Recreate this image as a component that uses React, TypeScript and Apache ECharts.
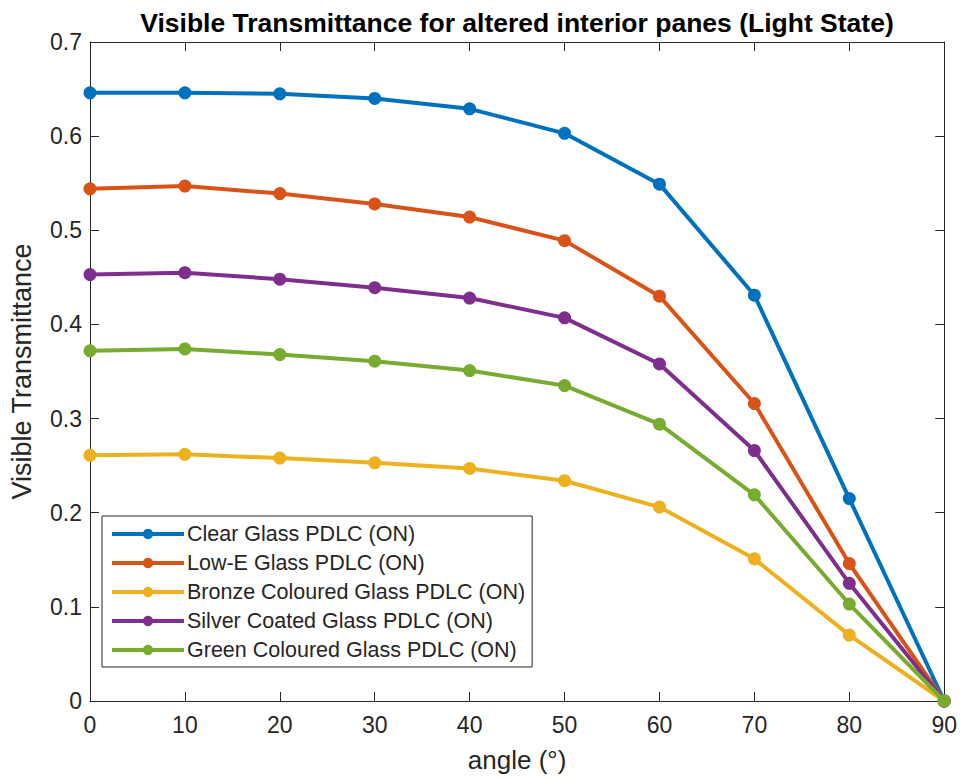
import React, { useEffect, useRef } from "react";
import * as echarts from "echarts";

const angles = [0, 10, 20, 30, 40, 50, 60, 70, 80, 90];
const clearGlass = [0.646, 0.646, 0.645, 0.64, 0.629, 0.603, 0.549, 0.431, 0.215, 0];
const lowEGlass = [0.544, 0.547, 0.539, 0.528, 0.514, 0.489, 0.43, 0.316, 0.146, 0];
const bronzeGlass = [0.261, 0.262, 0.258, 0.253, 0.247, 0.234, 0.206, 0.151, 0.07, 0];
const silverGlass = [0.453, 0.455, 0.448, 0.439, 0.428, 0.407, 0.358, 0.266, 0.125, 0];
const greenGlass = [0.372, 0.374, 0.368, 0.361, 0.351, 0.335, 0.294, 0.219, 0.103, 0];

const seriesNames = [
  "Clear Glass PDLC (ON)",
  "Low-E Glass PDLC (ON)",
  "Bronze Coloured Glass PDLC (ON)",
  "Silver Coated Glass PDLC (ON)",
  "Green Coloured Glass PDLC (ON)",
];
const seriesValues = [clearGlass, lowEGlass, bronzeGlass, silverGlass, greenGlass];
const colors = ["#0072BD", "#D95319", "#EDB120", "#7E2F8E", "#77AC30"];

const titleText = "Visible Transmittance for altered interior panes (Light State)";
const xName = "angle (°)";
const yName = "Visible Transmittance";

const FONT = "Liberation Sans, Arial, Helvetica, sans-serif";
const AXIS = "#262626";

export default function App() {
  const ref = useRef<HTMLDivElement>(null);
  useEffect(() => {
    if (!ref.current) return;
    const chart = echarts.init(ref.current, undefined, { renderer: "svg" });
    const axisLine = { show: true, onZero: false, lineStyle: { color: AXIS, width: 1 } };
    const axisTick = { show: true, inside: true, length: 9, lineStyle: { color: AXIS, width: 1 } };
    chart.setOption({
      animation: false,
      backgroundColor: "#ffffff",
      textStyle: { fontFamily: FONT },
      grid: { left: 88, right: 15, top: 42, bottom: 79, containLabel: false },
      graphic: [
        {
          type: "text",
          x: 517,
          y: 23,
          style: {
            text: titleText,
            align: "center",
            verticalAlign: "middle",
            font: `bold 26.5px ${FONT}`,
            fill: "#000000",
          },
        },
      ],
      legend: {
        orient: "vertical",
        left: 102,
        top: 516,
        padding: [7, 7, 6, 8],
        itemWidth: 72,
        itemHeight: 13,
        itemGap: 7,
        borderColor: AXIS,
        borderWidth: 1,
        backgroundColor: "#ffffff",
        lineStyle: { width: 4 },
        textStyle: { fontSize: 21.5, lineHeight: 21, color: AXIS, fontFamily: FONT, padding: [0, 0, 0, -2] },
        data: seriesNames,
      },
      xAxis: [
        {
          type: "value",
          position: "bottom",
          min: 0,
          max: 90,
          interval: 10,
          name: xName,
          nameLocation: "middle",
          nameGap: 46,
          nameTextStyle: { fontSize: 26, color: AXIS, fontFamily: FONT },
          axisLine,
          axisTick,
          axisLabel: { fontSize: 23, color: AXIS, margin: 12, fontFamily: FONT },
          splitLine: { show: false },
        },
        {
          type: "value",
          position: "top",
          min: 0,
          max: 90,
          interval: 10,
          axisLine,
          axisTick,
          axisLabel: { show: false },
          splitLine: { show: false },
        },
      ],
      yAxis: [
        {
          type: "value",
          position: "left",
          min: 0,
          max: 0.7,
          interval: 0.1,
          name: yName,
          nameLocation: "middle",
          nameGap: 55,
          nameTextStyle: { fontSize: 27, color: AXIS, fontFamily: FONT },
          axisLine,
          axisTick,
          axisLabel: { fontSize: 23, color: AXIS, margin: 8, fontFamily: FONT },
          splitLine: { show: false },
        },
        {
          type: "value",
          position: "right",
          min: 0,
          max: 0.7,
          interval: 0.1,
          axisLine,
          axisTick,
          axisLabel: { show: false },
          splitLine: { show: false },
        },
      ],
      series: seriesNames.map((name, i) => ({
        name,
        type: "line",
        xAxisIndex: 0,
        yAxisIndex: 0,
        data: angles.map((a, j) => [a, seriesValues[i][j]]),
        symbol: "circle",
        symbolSize: 13,
        showSymbol: true,
        lineStyle: { color: colors[i], width: 4 },
        itemStyle: { color: colors[i] },
        emphasis: { disabled: true },
        z: 2 + i,
      })),
    });
    return () => chart.dispose();
  }, []);
  return (
    <div
      ref={ref}
      style={{ position: "fixed", left: 0, top: 0, width: 960, height: 780, background: "#ffffff" }}
    />
  );
}
